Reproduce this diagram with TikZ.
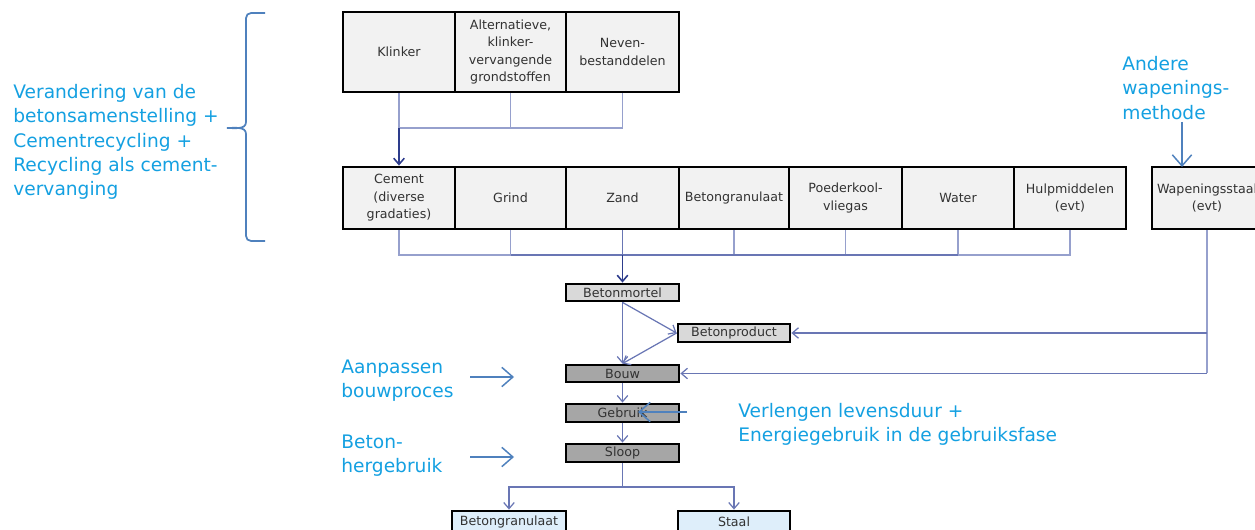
\documentclass[tikz,border=0pt]{standalone}
\usepackage{fontspec}
\setmainfont{DejaVu Sans}
\usetikzlibrary{arrows.meta}
\definecolor{boxgray}{RGB}{242,242,242}
\definecolor{midgray}{RGB}{217,217,217}
\definecolor{darkgray}{RGB}{166,166,166}
\definecolor{lightblue}{RGB}{222,238,250}
\definecolor{boxtext}{RGB}{50,50,50}
\definecolor{conn}{RGB}{105,118,180}
\definecolor{connlight}{RGB}{150,160,205}
\definecolor{conndark}{RGB}{45,60,140}
\definecolor{annot}{RGB}{20,160,225}
\definecolor{annarr}{RGB}{79,129,189}
\begin{document}
\begin{tikzpicture}[x=0.02cm,y=-0.02cm,
  sz/.style n args={2}{minimum width=#1*0.02cm, minimum height=#2*0.02cm},
  rbox/.style={draw=black, line width=1.6pt, fill=boxgray, inner sep=0pt, align=center,
     text=boxtext, font=\fontsize{7.2pt}{10pt}\selectfont},
  pbox/.style={rbox, fill=midgray},
  dbox/.style={rbox, fill=darkgray},
  bbox/.style={rbox, fill=lightblue},
  cline/.style={draw=conn, line width=0.7pt},
  clight/.style={draw=connlight, line width=0.7pt},
  carrow/.style={draw=conn, line width=0.7pt, -{Straight Barb[length=3.5pt,width=6pt]}},
  cdark/.style={draw=conndark, line width=0.9pt, -{Straight Barb[length=3.5pt,width=6pt]}},
  anntext/.style={text=annot, align=left, inner sep=0pt, font=\fontsize{10.6pt}{13.8pt}\selectfont},
  annarrow/.style={draw=annarr, line width=0.85pt, -{Straight Barb[length=6.3pt,width=11pt]}},
]
\useasboundingbox (0,0) rectangle (1255,530);
\clip (0,0) rectangle (1255,530);

% top row
\node[rbox, sz={112}{80}] (klinker) at (399,52) {Klinker};
\node[rbox, sz={111}{80}] (alt) at (510.5,52) {Alternatieve,\\klinker-\\vervangende\\grondstoffen};
\node[rbox, sz={113}{80}] (neven) at (622.5,52) {Neven-\\bestanddelen};

% second row
\node[rbox, sz={112}{62}] (cement) at (399,198) {Cement\\(diverse\\gradaties)};
\node[rbox, sz={111}{62}] (grind) at (510.5,198) {Grind};
\node[rbox, sz={113}{62}] (zand) at (622.5,198) {Zand};
\node[rbox, sz={110}{62}] (bgran) at (734,198) {Betongranulaat};
\node[rbox, sz={113}{62}] (poeder) at (845.5,198) {Poederkool-\\vliegas};
\node[rbox, sz={112}{62}] (water) at (958,198) {Water};
\node[rbox, sz={112}{62}] (hulp) at (1070,198) {Hulpmiddelen\\(evt)};
\node[rbox, sz={110}{62}] (wap) at (1207,198) {Wapeningsstaal\\(evt)};

% process
\node[pbox, sz={113}{17}] (mortel) at (622.5,292.5) {Betonmortel};
\node[pbox, sz={112}{18}] (bprod) at (734,333) {Betonproduct};
\node[dbox, sz={113}{17}] (bouw) at (622.5,373.5) {Bouw};
\node[dbox, sz={113}{18}] (gebruik) at (622.5,413) {Gebruik};
\node[dbox, sz={113}{18}] (sloop) at (622.5,453) {Sloop};
\node[bbox, sz={114}{22}] (bgranB) at (509,522) {Betongranulaat};
\node[bbox, sz={112}{22}] (staal) at (734,522) {Staal};

% top connectors
\coordinate (j1) at (622.5,128);
\draw[clight] (klinker.south) -- (klinker.south |- j1) -- (j1);
\draw[clight] (alt.south) -- (alt.south |- j1);
\draw[clight] (neven.south) -- (j1);
\draw[cdark] (klinker.south |- j1) -- (cement.north);

% second row connectors
\coordinate (j2) at (622.5,255);
\draw[clight] (cement.south) -- (cement.south |- j2) -- (hulp.south |- j2) -- (hulp.south);
\foreach \n in {grind,bgran,poeder,water}{
  \draw[clight] (\n.south) -- (\n.south |- j2);
}
\draw[cline] (zand.south) -- (j2);
\draw[cline] (grind.south |- j2) -- (water.south |- j2);
\draw[cdark] (j2) -- (mortel.north);

% process connectors
\draw[carrow] (mortel.south) -- (bouw.north);
\draw[carrow] (mortel.south) -- (bprod.west);
\draw[carrow] (bprod.west) -- (bouw.north);
\draw[clight] (wap.south) -- (wap.south |- bouw.east);
\draw[carrow] (wap.south |- bprod.east) -- (bprod.east);
\draw[carrow] (wap.south |- bouw.east) -- (bouw.east);
\draw[carrow] (bouw.south) -- (gebruik.north);
\draw[carrow] (gebruik.south) -- (sloop.north);
\coordinate (s1) at (622.5,487);
\draw[cline] (sloop.south) -- (s1);
\draw[carrow] (s1) -| (bgranB.north);
\draw[carrow] (s1) -| (staal.north);

% brace
\draw[draw=annarr, line width=1pt] (265,13) -- (251,13) to[out=180,in=90] (246,18) -- (246,122)
  to[out=-90,in=0] (227,128) to[out=0,in=90] (246,134) -- (246,236) to[out=-90,in=180] (251,241) -- (265,241);

% annotations
\node[anntext, anchor=west] (tleft) at (13,142) {Verandering van de\\betonsamenstelling +\\Cementrecycling +\\Recycling als cement-\\vervanging};
\node[anntext, anchor=west] (taanp) at (341,381) {Aanpassen\\bouwproces};
\node[anntext, anchor=west] (tbeton) at (341,456) {Beton-\\hergebruik};
\node[anntext, anchor=west] (tverl) at (738,424) {Verlengen levensduur +\\Energiegebruik in de gebruiksfase};
\node[anntext, anchor=west] (tandere) at (1122,88) {Andere\\wapenings-\\methode};

\coordinate (a1s) at (470,377); \coordinate (a1e) at (514,377);
\coordinate (a2s) at (470,457); \coordinate (a2e) at (514,457);
\coordinate (a3s) at (687,412); \coordinate (a3e) at (638,412);
\coordinate (a4s) at (1182,122); \coordinate (a4e) at (1182,167);
\draw[annarrow] (a1s) -- (a1e);
\draw[annarrow] (a2s) -- (a2e);
\draw[annarrow] (a3s) -- (a3e);
\draw[annarrow] (a4s) -- (a4e);
\end{tikzpicture}
\end{document}
